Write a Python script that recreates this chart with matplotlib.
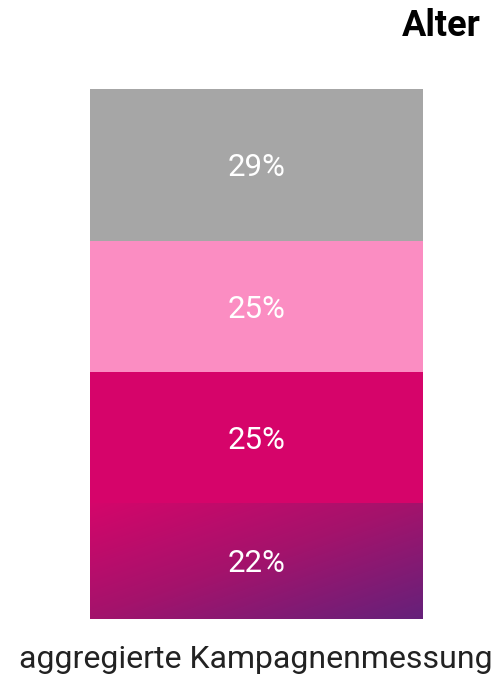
import numpy as np
import matplotlib.pyplot as plt
from matplotlib.colors import LinearSegmentedColormap

plt.rcParams['font.family'] = ['Roboto', 'DejaVu Sans']

# Altersverteilung, von unten nach oben gestapelt
anteile = [22, 25, 25, 29]
farben = ['#D2066A', '#D6046A', '#FB8DC2', '#A6A6A6']
beschriftungen = ['22%', '25%', '25%', '29%']
kategorie = 'aggregierte Kampagnenmessung'
titel = 'Alter'

W, H = 495, 682
fig = plt.figure(figsize=(W / 100, H / 100), dpi=100)
fig.patch.set_facecolor('white')

# Achse deckt genau den Balken ab
x0, x1 = 90, 423
y_top, y_bot = 89, 618.7
ax = fig.add_axes([x0 / W, 1 - y_bot / H, (x1 - x0) / W, (y_bot - y_top) / H])
ax.set_xlim(-0.5, 0.5)
ax.set_ylim(0, sum(anteile))
ax.axis('off')

unten = 0
for i, (wert, farbe, txt) in enumerate(zip(anteile, farben, beschriftungen)):
    bar = ax.bar(0, wert, width=1, bottom=unten, color=farbe, linewidth=0)[0]
    if i == 0:
        # Verlauf von links oben (magenta) nach rechts unten (violett)
        cmap = LinearSegmentedColormap.from_list('verlauf', ['#D4066A', '#A3136C', '#65217A'])
        u = np.linspace(0, 1, 400)
        v = np.linspace(0, 1, 200)
        U, V = np.meshgrid(u, v)
        grad = (U + V) / 2
        img = ax.imshow(grad, cmap=cmap, origin='upper', aspect='auto',
                        extent=[-0.5, 0.5, unten, unten + wert], vmin=0, vmax=1,
                        interpolation='bilinear', zorder=2)
        img.set_clip_path(bar)
    # Grundlinie etwas unter der Segmentmitte, damit die Ziffern mittig sitzen
    ax.annotate(txt, (0, unten + wert / 2), xytext=(0, -8.2), textcoords='offset points',
                ha='center', va='baseline', color='white', fontsize=22.5, zorder=3)
    unten += wert
ax.set_xlim(-0.5, 0.5)
ax.set_ylim(0, sum(anteile))

fig.text(481 / W, 1 - 36 / H, titel, ha='right', va='baseline',
         fontsize=26, fontweight='bold', color='black')
fig.text(256 / W, 1 - 668 / H, kategorie, ha='center', va='baseline',
         fontsize=23, color='#222222')

fig.savefig('out.png', dpi=100)
